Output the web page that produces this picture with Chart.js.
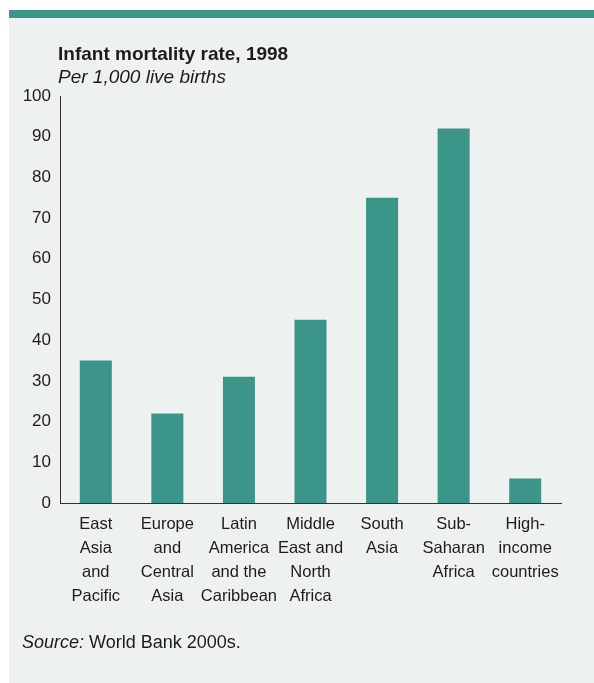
<!DOCTYPE html>
<html>
<head>
<meta charset="utf-8">
<script src="https://cdn.jsdelivr.net/npm/chart.js@4"></script>
<style>
  html, body { margin: 0; padding: 0; background: #fff; }
  #wrap { width: 594px; height: 683px; position: relative; }
</style>
</head>
<body>
<div id="wrap"><canvas id="mortalityChart" width="594" height="683"></canvas></div>
<script>
// Infant mortality rate, 1998 (per 1,000 live births)
const regions = [
    ['East', 'Asia', 'and', 'Pacific'],
    ['Europe', 'and', 'Central', 'Asia'],
    ['Latin', 'America', 'and the', 'Caribbean'],
    ['Middle', 'East and', 'North', 'Africa'],
    ['South', 'Asia'],
    ['Sub-', 'Saharan', 'Africa'],
    ['High-', 'income', 'countries']
];
const mortalityRates = [35, 22, 31, 45, 75, 92, 6];
const yTicks = [0, 10, 20, 30, 40, 50, 60, 70, 80, 90, 100];

const teal = '#3b9589';
const panelBg = '#edf1ef';
const textColor = '#1c1c1c';
const fontFamily = '"Liberation Sans", Arial, sans-serif';

// panel, top strip, title and source note
const panelPlugin = {
    id: 'panel',
    beforeDraw(chart) {
        const ctx = chart.ctx;
        ctx.save();
        ctx.fillStyle = '#ffffff';
        ctx.fillRect(0, 0, chart.width, chart.height);
        ctx.fillStyle = panelBg;
        ctx.fillRect(9, 10, chart.width - 9, chart.height - 10);
        ctx.fillStyle = teal;
        ctx.fillRect(9, 10, chart.width - 9, 8);

        ctx.fillStyle = textColor;
        ctx.textBaseline = 'middle';
        ctx.textAlign = 'left';
        ctx.font = 'bold 19px ' + fontFamily;
        ctx.fillText('Infant mortality rate, 1998', 58, 55);
        ctx.font = 'italic 19px ' + fontFamily;
        ctx.fillText('Per 1,000 live births', 58, 78);

        ctx.font = 'italic 18px ' + fontFamily;
        ctx.fillText('Source:', 22, 643);
        const w = ctx.measureText('Source:').width;
        ctx.font = '18px ' + fontFamily;
        ctx.fillText(' World Bank 2000s.', 22 + w, 643);
        ctx.restore();
    }
};

new Chart(document.getElementById('mortalityChart').getContext('2d'), {
    type: 'bar',
    data: {
        labels: regions,
        datasets: [{
            data: mortalityRates,
            backgroundColor: teal,
            borderWidth: 0,
            barPercentage: 0.9,
            categoryPercentage: 0.497
        }]
    },
    options: {
        responsive: false,
        animation: false,
        layout: {
            padding: { left: 0, top: 96, right: 33, bottom: 0 }
        },
        scales: {
            y: {
                min: 0,
                max: 100,
                afterFit: function(scale) { scale.width = 60; },
                afterBuildTicks: function(scale) {
                    scale.ticks = yTicks.map(v => ({ value: v }));
                },
                grid: { display: false, drawTicks: false },
                border: { display: true, color: '#333333', width: 1 },
                ticks: {
                    padding: 9,
                    color: textColor,
                    font: { family: fontFamily, size: 17 }
                }
            },
            x: {
                afterFit: function(scale) { scale.height = 180; },
                grid: { display: false, drawTicks: false },
                border: { display: true, color: '#333333', width: 1 },
                ticks: {
                    padding: 10,
                    maxRotation: 0,
                    autoSkip: false,
                    color: textColor,
                    font: { family: fontFamily, size: 16.5, lineHeight: 1.44 }
                }
            }
        },
        plugins: {
            legend: { display: false },
            tooltip: { enabled: false }
        }
    },
    plugins: [panelPlugin]
});
</script>
</body>
</html>
